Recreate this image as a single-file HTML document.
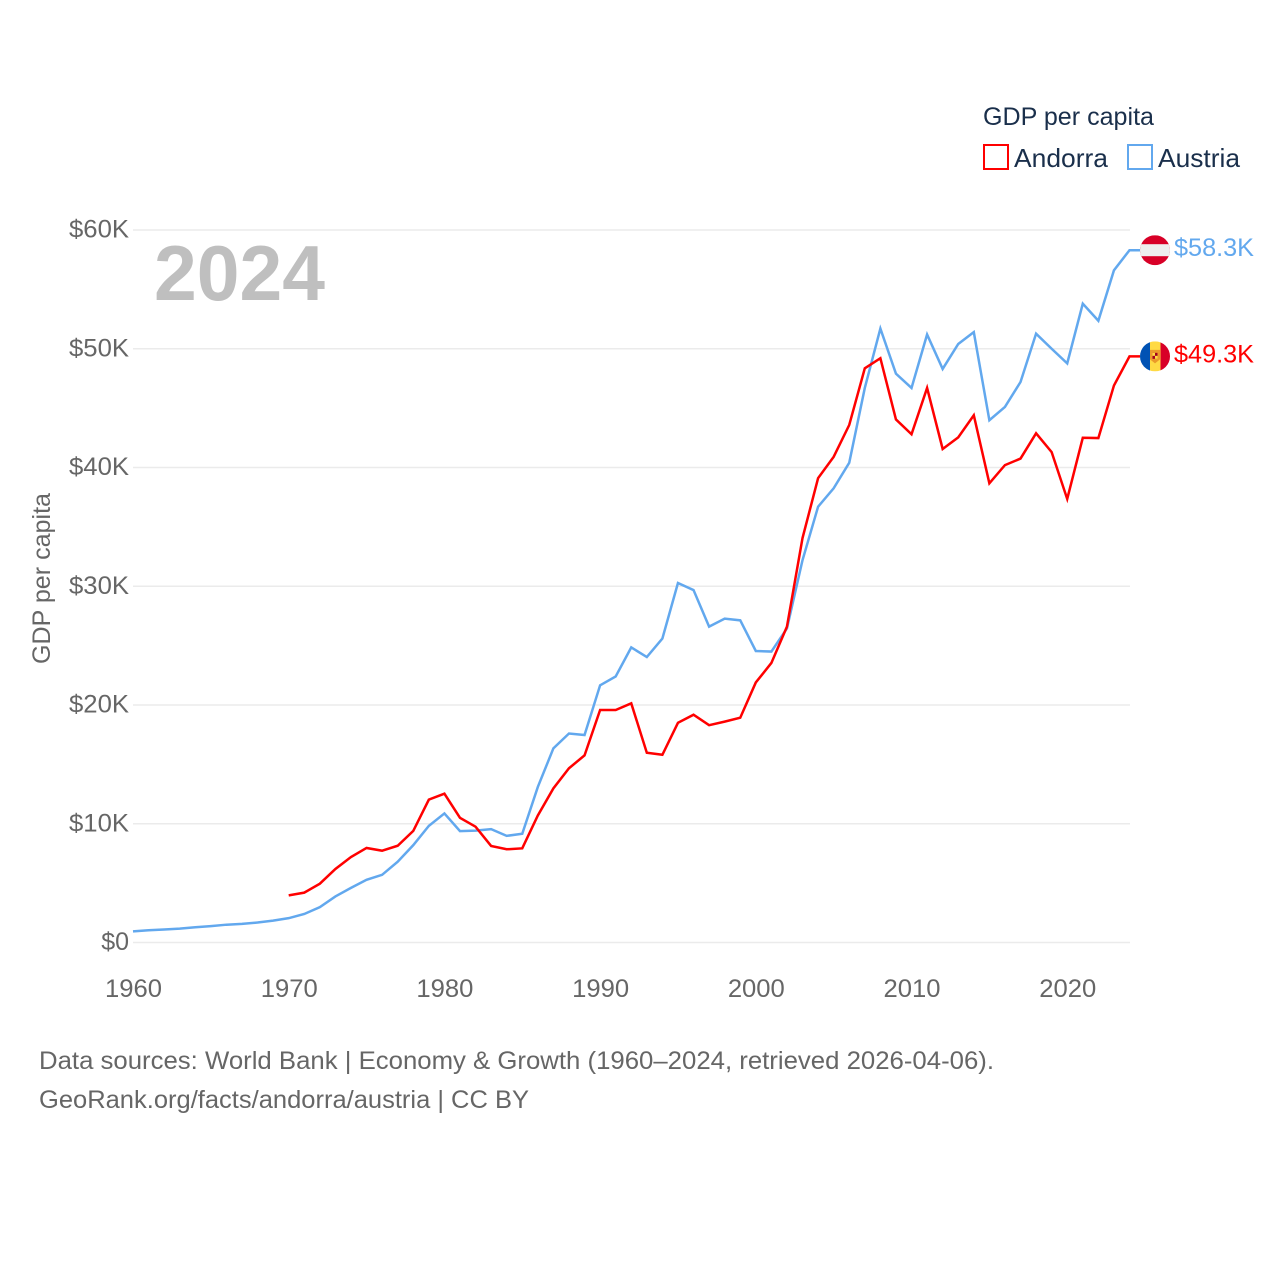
<!DOCTYPE html>
<html lang="en">
<head>
<meta charset="utf-8">
<title>GDP per capita: Andorra and Austria</title>
<style>
html,body{margin:0;padding:0;background:#fff;width:1280px;height:1280px;overflow:hidden}
svg{display:block}
text{font-family:"Liberation Sans",sans-serif}
</style>
</head>
<body>
<svg id="chart" xmlns="http://www.w3.org/2000/svg" width="1280" height="1280" viewBox="0 0 1280 1280">
  <rect width="1280" height="1280" fill="#fff"/>
  <g id="grid"></g>
  <g id="yticks"></g>
  <g id="xticks"></g>
  <text x="154" y="300" font-size="78" font-weight="700" fill="#bfbfbf" textLength="171" lengthAdjust="spacingAndGlyphs">2024</text>
  <text transform="translate(50,664) rotate(-90)" font-size="25" fill="#666" textLength="171" lengthAdjust="spacingAndGlyphs">GDP per capita</text>
  <g id="series"></g>
  <g id="end-labels"></g>
  <defs>
    <clipPath id="flag-at-clip"><circle cx="0" cy="0" r="15"/></clipPath>
    <clipPath id="flag-ad-clip"><circle cx="0" cy="0" r="15"/></clipPath>
  </defs>
  <g>
    <text x="983" y="125" font-size="25" fill="#1a2f4b" textLength="171" lengthAdjust="spacingAndGlyphs">GDP per capita</text>
    <g>
      <rect x="984" y="145" width="24" height="24" fill="none" stroke="#ff0000" stroke-width="2"/>
      <text x="1014" y="167" font-size="26" fill="#1a2f4b" textLength="94" lengthAdjust="spacingAndGlyphs">Andorra</text>
    </g>
    <g>
      <rect x="1128" y="145" width="24" height="24" fill="none" stroke="#62a8ee" stroke-width="2"/>
      <text x="1158" y="167" font-size="26" fill="#1a2f4b" textLength="82" lengthAdjust="spacingAndGlyphs">Austria</text>
    </g>
  </g>
  <text x="39" y="1069" font-size="25" fill="#666" textLength="955" lengthAdjust="spacingAndGlyphs">Data sources: World Bank | Economy &amp; Growth (1960–2024, retrieved 2026-04-06).</text>
  <text x="39" y="1108" font-size="25" fill="#666" textLength="490" lengthAdjust="spacingAndGlyphs">GeoRank.org/facts/andorra/austria | CC BY</text>
</svg>
<script>
const years = [1960,1961,1962,1963,1964,1965,1966,1967,1968,1969,1970,1971,1972,1973,1974,1975,1976,1977,1978,1979,1980,1981,1982,1983,1984,1985,1986,1987,1988,1989,1990,1991,1992,1993,1994,1995,1996,1997,1998,1999,2000,2001,2002,2003,2004,2005,2006,2007,2008,2009,2010,2011,2012,2013,2014,2015,2016,2017,2018,2019,2020,2021,2022,2023,2024];
const austria = [0.94,1.03,1.09,1.17,1.28,1.38,1.5,1.57,1.68,1.84,2.05,2.4,2.98,3.88,4.6,5.28,5.7,6.8,8.2,9.82,10.87,9.38,9.42,9.55,8.98,9.16,13.1,16.35,17.6,17.47,21.66,22.4,24.85,24.04,25.6,30.27,29.68,26.6,27.27,27.13,24.55,24.5,26.45,32.2,36.7,38.25,40.4,46.7,51.7,47.9,46.7,51.2,48.3,50.4,51.4,43.98,45.1,47.2,51.27,50.0,48.77,53.8,52.36,56.6,58.3];
const andorra = [null,null,null,null,null,null,null,null,null,null,3.97,4.2,4.95,6.19,7.2,7.96,7.73,8.15,9.4,12.03,12.53,10.5,9.75,8.13,7.85,7.93,10.7,12.98,14.67,15.76,19.58,19.58,20.14,15.98,15.81,18.5,19.18,18.3,18.6,18.93,21.9,23.54,26.6,34.06,39.1,40.9,43.58,48.35,49.2,44.05,42.8,46.7,41.56,42.54,44.4,38.67,40.2,40.75,42.88,41.3,37.35,42.5,42.48,46.9,49.36];
const yTickValues = [0,10,20,30,40,50,60];
const yTickLabels = ["$0","$10K","$20K","$30K","$40K","$50K","$60K"];
const xTickValues = [1960,1970,1980,1990,2000,2010,2020];
const andorraLabel = "$49.3K";
const austriaLabel = "$58.3K";

const NS = "http://www.w3.org/2000/svg";
const X0 = 133, X1 = 1129.5, Y0 = 942.5, Y60 = 230;
function xScale(year){ return X0 + (year - 1960) * (X1 - X0) / (2024 - 1960); }
function yScale(v){ return Y0 - v * (Y0 - Y60) / 60; }
function make(tag, attrs, parent){
  const el = document.createElementNS(NS, tag);
  for (const k in attrs) el.setAttribute(k, attrs[k]);
  parent.appendChild(el);
  return el;
}
const grid = document.getElementById('grid');
const yticks = document.getElementById('yticks');
const xticks = document.getElementById('xticks');
const seriesG = document.getElementById('series');
const labelsG = document.getElementById('end-labels');

yTickValues.forEach(function(v, i){
  const line = make('line', {x1:X0, x2:1130, y1:yScale(v), y2:yScale(v), stroke:'#ebebeb', 'stroke-width':1.5}, grid);
  
  
  const t = make('text', {x:129, y:yScale(v)+7.5, 'text-anchor':'end', 'font-size':25, fill:'#666'}, yticks);
  
  
  t.textContent = yTickLabels[i];
  if (yTickLabels[i].length > 2) { t.setAttribute('textLength', 60); t.setAttribute('lengthAdjust', 'spacingAndGlyphs'); }
});
xTickValues.forEach(function(y){
  const t = make('text', {x:xScale(y)+0.5, y:997, 'text-anchor':'middle', 'font-size':25, fill:'#666', textLength:57, lengthAdjust:'spacingAndGlyphs'}, xticks);
  
  
  t.textContent = String(y);
});
function linePath(values){
  let d = '';
  values.forEach(function(v, i){
    if (v === null) return;
    d += (d ? 'L' : 'M') + xScale(years[i]).toFixed(2) + ' ' + yScale(v).toFixed(2);
  });
  const last = values[values.length - 1];
  return d + 'L1140 ' + yScale(last).toFixed(2);
}
const pathAustria = make('path', {d:linePath(austria), fill:'none', stroke:'#62a8ee', 'stroke-width':2.5, 'stroke-linejoin':'miter'}, seriesG);


const pathAndorra = make('path', {d:linePath(andorra), fill:'none', stroke:'#ff0000', 'stroke-width':2.5, 'stroke-linejoin':'miter'}, seriesG);



/* Austria flag and label */
const atY = yScale(austria[austria.length - 1]);
const flagAt = make('g', {transform:'translate(1155,' + atY.toFixed(2) + ')', 'clip-path':'url(#flag-at-clip)'}, labelsG);


make('rect', {x:-15, y:-15, width:30, height:30, fill:'#d80027'}, flagAt);
make('rect', {x:-15, y:-6, width:30, height:12, fill:'#eeeeee'}, flagAt);
const lblAt = make('text', {x:1174, y:atY+6, 'font-size':25, fill:'#62a8ee', textLength:80, lengthAdjust:'spacingAndGlyphs'}, labelsG);


lblAt.textContent = austriaLabel;

/* Andorra flag and label */
const adY = yScale(andorra[andorra.length - 1]);
const flagAd = make('g', {transform:'translate(1155,' + adY.toFixed(2) + ')', 'clip-path':'url(#flag-ad-clip)'}, labelsG);


make('rect', {x:-15, y:-15, width:10, height:30, fill:'#0052b4'}, flagAd);
make('rect', {x:-5, y:-15, width:10.5, height:30, fill:'#ffda44'}, flagAd);
make('rect', {x:5.5, y:-15, width:10, height:30, fill:'#d80027'}, flagAd);
make('path', {d:'M-5 -6.5H5V3L0 7L-5 3Z', fill:'#eb9a2a'}, flagAd);
make('rect', {x:-2.5, y:-3.5, width:5, height:6, fill:'#a2001d'}, flagAd);
make('rect', {x:-2.5, y:-3.5, width:2.5, height:3, fill:'#ffda44'}, flagAd);
make('rect', {x:0, y:-0.5, width:2.5, height:3, fill:'#ffda44'}, flagAd);
const lblAd = make('text', {x:1174, y:adY+6, 'font-size':25, fill:'#ff0000', textLength:80, lengthAdjust:'spacingAndGlyphs'}, labelsG);


lblAd.textContent = andorraLabel;
</script>
</body>
</html>
